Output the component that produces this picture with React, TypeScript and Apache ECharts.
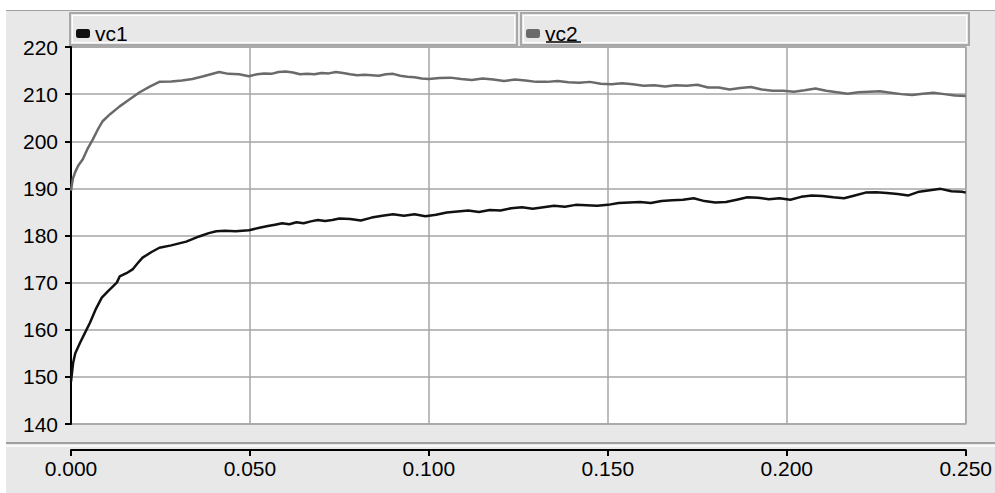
import React, { useEffect, useRef } from "react";
import * as echarts from "echarts";

const seriesNames = ["vc1", "vc2"];
const xTicks = [0, 0.05, 0.1, 0.15, 0.2, 0.25];
const yTicks = [140, 150, 160, 170, 180, 190, 200, 210, 220];

const vc1Points: [number, number][] = [
  [0, 149], [0.0003, 151], [0.0006, 153], [0.0012, 155], [0.0025, 157.2], [0.004, 159.5],
  [0.0053, 161.5], [0.007, 164.5], [0.0086, 166.8], [0.0105, 168.3], [0.0128, 170], [0.0136, 171.3],
  [0.0155, 172], [0.0172, 172.8], [0.0185, 174], [0.02, 175.3], [0.0225, 176.5], [0.0247, 177.4],
  [0.028, 177.9], [0.0322, 178.7], [0.0358, 179.8], [0.0385, 180.5], [0.0406, 180.9], [0.043, 181],
  [0.046, 180.9], [0.0497, 181.1], [0.053, 181.7],
  [0.055, 182], [0.057, 182.3], [0.059, 182.6], [0.061, 182.4], [0.063, 182.8], [0.065, 182.6],
  [0.067, 183], [0.069, 183.3], [0.071, 183.1], [0.073, 183.3], [0.075, 183.6], [0.078, 183.5],
  [0.081, 183.2], [0.084, 183.8], [0.087, 184.2], [0.09, 184.5], [0.093, 184.2], [0.096, 184.5],
  [0.099, 184.1], [0.102, 184.4], [0.105, 184.9], [0.108, 185.1], [0.111, 185.3], [0.114, 185.0],
  [0.117, 185.4], [0.12, 185.3], [0.123, 185.8], [0.126, 186.0], [0.129, 185.7], [0.132, 186.0],
  [0.135, 186.3], [0.138, 186.1], [0.141, 186.5], [0.144, 186.4], [0.147, 186.3], [0.15, 186.5],
  [0.153, 186.9], [0.156, 187.0], [0.159, 187.1], [0.162, 186.9], [0.165, 187.3], [0.168, 187.5],
  [0.171, 187.6], [0.174, 187.9], [0.177, 187.3], [0.18, 187.0], [0.183, 187.1], [0.186, 187.6],
  [0.189, 188.1], [0.192, 188.0], [0.195, 187.7], [0.198, 187.9], [0.201, 187.6], [0.204, 188.2],
  [0.207, 188.5], [0.21, 188.4], [0.213, 188.1], [0.216, 187.9], [0.219, 188.5], [0.222, 189.1],
  [0.225, 189.2], [0.228, 189.0], [0.231, 188.8], [0.234, 188.5], [0.237, 189.3], [0.24, 189.6],
  [0.243, 189.9], [0.246, 189.4], [0.249, 189.3], [0.25, 189.1],
];

const vc2Points: [number, number][] = [
  [0, 189.5], [0.0005, 192], [0.0012, 193.5], [0.002, 194.8], [0.0033, 196.2], [0.0047, 198.5],
  [0.0061, 200.4], [0.0075, 202.5], [0.0089, 204.3], [0.011, 205.8], [0.0136, 207.4], [0.016, 208.7],
  [0.0192, 210.4], [0.022, 211.6], [0.0247, 212.6], [0.028, 212.7], [0.031, 212.9], [0.0339, 213.2],
  [0.037, 213.8], [0.0414, 214.7], [0.044, 214.3], [0.047, 214.2], [0.0497, 213.8], [0.052, 214.2],
  [0.054, 214.4], [0.056, 214.3], [0.058, 214.7], [0.06, 214.8], [0.062, 214.6], [0.064, 214.2],
  [0.066, 214.3], [0.068, 214.2], [0.07, 214.5], [0.072, 214.4], [0.074, 214.7], [0.076, 214.5],
  [0.078, 214.2], [0.08, 214.0], [0.082, 214.1], [0.084, 214.0], [0.086, 213.9], [0.088, 214.2],
  [0.09, 214.3], [0.092, 213.9], [0.094, 213.7], [0.096, 213.6], [0.098, 213.3], [0.1, 213.2],
  [0.103, 213.4], [0.106, 213.5], [0.109, 213.2], [0.112, 213.0], [0.115, 213.3], [0.118, 213.1],
  [0.121, 212.8], [0.124, 213.1], [0.127, 212.9], [0.13, 212.6], [0.133, 212.6], [0.136, 212.8],
  [0.139, 212.5], [0.142, 212.4], [0.145, 212.6], [0.148, 212.2], [0.151, 212.1], [0.154, 212.3],
  [0.157, 212.1], [0.16, 211.8], [0.163, 211.9], [0.166, 211.6], [0.169, 211.9], [0.172, 211.8],
  [0.175, 212.0], [0.178, 211.4], [0.181, 211.4], [0.184, 211.0], [0.187, 211.3], [0.19, 211.5],
  [0.193, 211.0], [0.196, 210.7], [0.199, 210.7], [0.202, 210.5], [0.205, 210.8], [0.208, 211.2],
  [0.211, 210.7], [0.214, 210.4], [0.217, 210.1], [0.22, 210.4], [0.223, 210.5], [0.226, 210.6],
  [0.229, 210.3], [0.232, 210.0], [0.235, 209.8], [0.238, 210.1], [0.241, 210.3], [0.244, 210.0],
  [0.247, 209.7], [0.25, 209.6],
];

const FONT = "'Liberation Sans', Arial, sans-serif";
const GRID_GRAY = "#a6a6a6";

export default function App() {
  const ref = useRef<HTMLDivElement>(null);
  useEffect(() => {
    if (!ref.current) return;
    const chart = echarts.init(ref.current, null, { renderer: "svg" });
    const legendBox = (x: number, w: number) => [
      { type: "rect", z: 1, shape: { x, y: 13, width: w, height: 32 }, style: { fill: "#e8e8e8", stroke: "#a8a8a8", lineWidth: 2 } },
      { type: "rect", z: 1, shape: { x: x + 2.5, y: 15.5, width: w - 5, height: 27 }, style: { fill: "none", stroke: "#ffffff", lineWidth: 1 } },
    ];
    chart.setOption({
      animation: false,
      graphic: [
        ...legendBox(70, 447),
        ...legendBox(521, 448),
        { type: "line", z: 1, shape: { x1: 6, y1: 443, x2: 995, y2: 443 }, style: { stroke: "#a0a0a0", lineWidth: 2 } },
        { type: "line", z: 1, shape: { x1: 6, y1: 446, x2: 995, y2: 446 }, style: { stroke: "#ffffff", lineWidth: 1.5 } },
        { type: "line", z: 100, shape: { x1: 546, y1: 42, x2: 581, y2: 42 }, style: { stroke: "#000", lineWidth: 1.5 } },
      ],
      legend: [
        {
          data: [seriesNames[0]], left: 71, top: 18, icon: "roundRect", itemWidth: 14, itemHeight: 9,
          selectedMode: false, z: 50, textStyle: { fontSize: 21, fontFamily: FONT, color: "#000" },
        },
        {
          data: [seriesNames[1]], left: 521, top: 18, icon: "roundRect", itemWidth: 14, itemHeight: 9,
          selectedMode: false, z: 50, textStyle: { fontSize: 21, fontFamily: FONT, color: "#000" },
        },
      ],
      grid: {
        left: 71, top: 47, right: 24, bottom: 69, show: true,
        backgroundColor: "#ffffff", borderColor: GRID_GRAY, borderWidth: 1.5,
      },
      xAxis: {
        type: "value", min: xTicks[0], max: xTicks[xTicks.length - 1], interval: 0.05,
        offset: 26,
        axisLine: { show: true, lineStyle: { color: "#000", width: 2 } },
        axisTick: { show: true, length: 6, lineStyle: { color: "#000", width: 2 } },
        axisLabel: { fontSize: 21, fontFamily: FONT, color: "#000", margin: 8, formatter: (v: number) => v.toFixed(3) },
        splitLine: { show: true, lineStyle: { color: GRID_GRAY, width: 1.5 } },
      },
      yAxis: {
        type: "value", min: yTicks[0], max: yTicks[yTicks.length - 1], interval: 10,
        axisLine: { show: true, lineStyle: { color: "#000", width: 2 } },
        axisTick: { show: true, length: 6, lineStyle: { color: "#000", width: 2 } },
        axisLabel: { fontSize: 21, fontFamily: FONT, color: "#000", margin: 13 },
        splitLine: { show: true, lineStyle: { color: GRID_GRAY, width: 1.5 } },
      },
      series: [
        {
          name: seriesNames[0], type: "line", data: vc1Points, showSymbol: false,
          itemStyle: { color: "#111" }, lineStyle: { color: "#111", width: 2.5 },
        },
        {
          name: seriesNames[1], type: "line", data: vc2Points, showSymbol: false,
          itemStyle: { color: "#6a6a6a" }, lineStyle: { color: "#6a6a6a", width: 2.5 },
        },
      ],
    });
    return () => chart.dispose();
  }, []);
  return (
    <div style={{ position: "fixed", left: 0, top: 0, width: 995, height: 493, background: "#ffffff" }}>
      <div style={{ position: "absolute", left: 6, top: 10, right: 0, bottom: 0, background: "#e8e8e8", borderTop: "1.5px solid #a0a0a0" }} />
      <div ref={ref} style={{ position: "absolute", left: 0, top: 0, width: 995, height: 493 }} />
    </div>
  );
}
